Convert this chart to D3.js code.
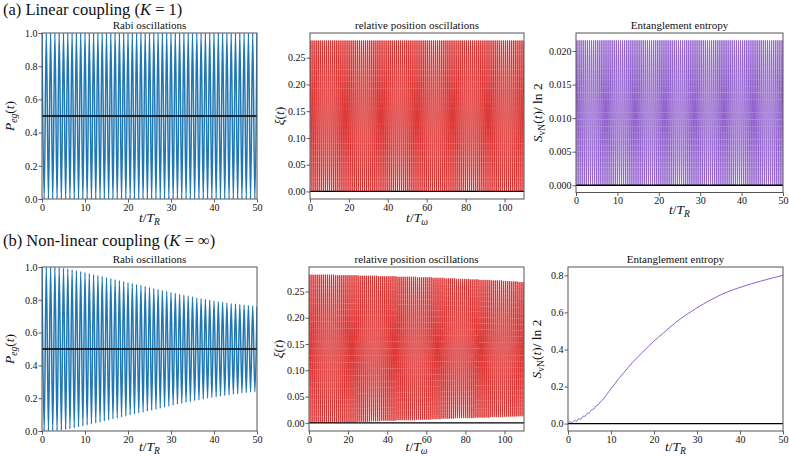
<!DOCTYPE html>
<html><head><meta charset="utf-8">
<script src="https://cdn.jsdelivr.net/npm/d3@7"></script>
<style>
body{margin:0;background:#fff;}
text{font-family:"Liberation Serif","DejaVu Serif",serif;fill:#111;}
</style></head><body>
<svg id="c" width="789" height="457"></svg>
<script>
// ---------- DATA ----------
// Rabi oscillations, linear coupling: peaks at t = 0..50, troughs at t = 0.5..49.5 (period 1 T_R)
const rabiA_peaks = [1,1,1,1,1,1,1,1,1,1, 1,1,1,1,1,1,1,1,1,1, 1,1,1,1,1,1,1,1,1,1, 1,1,1,1,1,1,1,1,1,1, 1,1,1,1,1,1,1,1,1,1, 1];
const rabiA_troughs = [0,0,0,0,0,0,0,0,0,0, 0,0,0,0,0,0,0,0,0,0, 0,0,0,0,0,0,0,0,0,0, 0,0,0,0,0,0,0,0,0,0, 0,0,0,0,0,0,0,0,0,0];
// Rabi oscillations, non-linear coupling
const rabiB_peaks = [1.000,1.000,1.000,0.999,0.997,0.993,0.989,0.984,0.978,0.972,
 0.966,0.960,0.954,0.948,0.942,0.936,0.930,0.924,0.918,0.912,
 0.906,0.900,0.894,0.888,0.882,0.876,0.870,0.864,0.858,0.852,
 0.846,0.840,0.834,0.829,0.823,0.818,0.813,0.808,0.803,0.798,
 0.794,0.790,0.786,0.782,0.778,0.775,0.771,0.768,0.765,0.762, 0.759];
const rabiB_troughs = [0.000,0.000,0.000,0.002,0.005,0.009,0.013,0.019,0.025,0.031,
 0.037,0.043,0.049,0.055,0.061,0.067,0.073,0.079,0.085,0.091,
 0.097,0.103,0.109,0.115,0.121,0.127,0.133,0.139,0.145,0.151,
 0.157,0.163,0.168,0.174,0.179,0.184,0.189,0.194,0.199,0.204,
 0.208,0.212,0.216,0.220,0.224,0.227,0.231,0.234,0.237,0.240];
// relative position, linear: troughs at t = 0..110, peaks at t = 0.5..109.5 (period 1 T_w)
const posA_troughs = [0,0,0,0,0,0,0,0,0,0, 0,0,0,0,0,0,0,0,0,0, 0,0,0,0,0,0,0,0,0,0,
 0,0,0,0,0,0,0,0,0,0, 0,0,0,0,0,0,0,0,0,0, 0,0,0,0,0,0,0,0,0,0,
 0,0,0,0,0,0,0,0,0,0, 0,0,0,0,0,0,0,0,0,0, 0,0,0,0,0,0,0,0,0,0,
 0,0,0,0,0,0,0,0,0,0, 0,0,0,0,0,0,0,0,0,0, 0];
const posA_peaks = [0.282,0.282,0.282,0.282,0.282,0.282,0.282,0.282,0.282,0.282,
 0.282,0.282,0.282,0.282,0.282,0.282,0.282,0.282,0.282,0.282,
 0.282,0.282,0.282,0.282,0.282,0.282,0.282,0.282,0.282,0.282,
 0.282,0.282,0.282,0.282,0.282,0.282,0.282,0.282,0.282,0.282,
 0.282,0.282,0.282,0.282,0.282,0.282,0.282,0.282,0.282,0.282,
 0.282,0.282,0.282,0.282,0.282,0.282,0.282,0.282,0.282,0.282,
 0.282,0.282,0.282,0.282,0.282,0.282,0.282,0.282,0.282,0.282,
 0.282,0.282,0.282,0.282,0.282,0.282,0.282,0.282,0.282,0.282,
 0.282,0.282,0.282,0.282,0.282,0.282,0.282,0.282,0.282,0.282,
 0.282,0.282,0.282,0.282,0.282,0.282,0.282,0.282,0.282,0.282,
 0.282,0.282,0.282,0.282,0.282,0.282,0.282,0.282,0.282,0.282];
// relative position, non-linear
const posB_troughs = [0.000,0.000,0.000,0.000,0.000,0.000,0.000,0.000,0.000,0.000,
 0.000,0.000,0.000,0.000,0.000,0.001,0.001,0.001,0.001,0.001,
 0.001,0.001,0.001,0.001,0.001,0.002,0.002,0.002,0.002,0.002,
 0.002,0.002,0.003,0.003,0.003,0.003,0.003,0.004,0.004,0.004,
 0.004,0.004,0.004,0.004,0.004,0.005,0.005,0.005,0.005,0.005,
 0.005,0.005,0.005,0.005,0.005,0.006,0.006,0.006,0.006,0.006,
 0.006,0.006,0.006,0.007,0.007,0.007,0.007,0.007,0.008,0.008,
 0.008,0.008,0.008,0.008,0.008,0.009,0.009,0.009,0.009,0.009,
 0.009,0.009,0.009,0.009,0.009,0.010,0.010,0.010,0.010,0.010,
 0.010,0.010,0.010,0.011,0.011,0.011,0.011,0.011,0.011,0.011,
 0.0115,0.0115,0.012,0.012,0.012,0.012,0.012,0.0125,0.0125,0.0125,0.0125];
const posB_peaks = [0.282,0.282,0.282,0.282,0.282,0.282,0.282,0.282,0.282,0.282,
 0.282,0.282,0.282,0.281,0.281,0.281,0.281,0.281,0.281,0.281,
 0.281,0.281,0.281,0.281,0.281,0.280,0.280,0.280,0.280,0.280,
 0.280,0.280,0.280,0.280,0.280,0.279,0.279,0.279,0.279,0.279,
 0.279,0.279,0.279,0.279,0.279,0.278,0.278,0.278,0.278,0.278,
 0.278,0.278,0.278,0.278,0.278,0.277,0.277,0.277,0.277,0.277,
 0.277,0.277,0.277,0.276,0.276,0.276,0.276,0.276,0.276,0.275,
 0.275,0.275,0.275,0.275,0.275,0.274,0.274,0.274,0.274,0.274,
 0.274,0.274,0.273,0.273,0.273,0.273,0.273,0.272,0.272,0.272,
 0.272,0.272,0.272,0.271,0.271,0.271,0.271,0.271,0.271,0.270,
 0.270,0.270,0.270,0.269,0.269,0.269,0.269,0.268,0.268,0.268];
// entanglement entropy, linear: troughs at t = 0,0.5,...,50 ; peaks in between (period 0.5 T_R)
const entA_troughs = [0,0,0,0,0,0,0,0,0,0, 0,0,0,0,0,0,0,0,0,0, 0,0,0,0,0,0,0,0,0,0,
 0,0,0,0,0,0,0,0,0,0, 0,0,0,0,0,0,0,0,0,0, 0,0,0,0,0,0,0,0,0,0,
 0,0,0,0,0,0,0,0,0,0, 0,0,0,0,0,0,0,0,0,0, 0,0,0,0,0,0,0,0,0,0,
 0,0,0,0,0,0,0,0,0,0, 0];
const entA_peaks = [0.0216,0.0216,0.0216,0.0216,0.0216,0.0216,0.0216,0.0216,0.0216,0.0216,
 0.0216,0.0216,0.0216,0.0216,0.0216,0.0216,0.0216,0.0216,0.0216,0.0216,
 0.0216,0.0216,0.0216,0.0216,0.0216,0.0216,0.0216,0.0216,0.0216,0.0216,
 0.0216,0.0216,0.0216,0.0216,0.0216,0.0216,0.0216,0.0216,0.0216,0.0216,
 0.0216,0.0216,0.0216,0.0216,0.0216,0.0216,0.0216,0.0216,0.0216,0.0216,
 0.0216,0.0216,0.0216,0.0216,0.0216,0.0216,0.0216,0.0216,0.0216,0.0216,
 0.0216,0.0216,0.0216,0.0216,0.0216,0.0216,0.0216,0.0216,0.0216,0.0216,
 0.0216,0.0216,0.0216,0.0216,0.0216,0.0216,0.0216,0.0216,0.0216,0.0216,
 0.0216,0.0216,0.0216,0.0216,0.0216,0.0216,0.0216,0.0216,0.0216,0.0216,
 0.0216,0.0216,0.0216,0.0216,0.0216,0.0216,0.0216,0.0216,0.0216,0.0216];
// entanglement entropy, non-linear (t, value)
const entB_t = [0,0.5,1,1.5,2,2.5,3,3.5,4,4.5,5,5.5,6,6.5,7,7.5,8,9,10,12,14,15,16,18,20,22,25,28,30,33,36,40,45,50];
const entB_v = [0.000,0.011,0.004,0.017,0.012,0.027,0.024,0.040,0.040,0.056,0.058,0.075,0.079,0.095,0.101,0.117,0.126,0.157,0.188,0.248,0.303,0.330,0.355,0.400,0.445,0.485,0.545,0.595,0.625,0.665,0.700,0.735,0.770,0.800];

// ticks
const rabiYTicks = [0,0.2,0.4,0.6,0.8,1.0];
const posYTicks = [0,0.05,0.10,0.15,0.20,0.25];
const entAYTicks = [0,0.005,0.010,0.015,0.020];
const entBYTicks = [0,0.2,0.4,0.6,0.8];
const tRTicks = [0,10,20,30,40,50];
const tWTicks = [0,20,40,60,80,100];

// ---------- helpers ----------
function osc(peaks, troughs, period, peakFirst){
  const pts=[]; const a = peakFirst?peaks:troughs, b = peakFirst?troughs:peaks;
  for(let i=0;i<a.length;i++){ pts.push([i*period,a[i]]); if(i<b.length) pts.push([(i+0.5)*period,b[i]]); }
  return pts;
}
const svg=d3.select("#c");
let clipId=0;
function panel(o){
  const g=svg.append("g");
  const x=d3.scaleLinear().domain(o.xd).range([o.x0,o.x1]);
  const y=d3.scaleLinear().domain(o.yd).range([o.y1,o.y0]);
  const id="clip"+(clipId++);
  g.append("clipPath").attr("id",id).append("rect").attr("x",o.x0).attr("y",o.y0).attr("width",o.x1-o.x0).attr("height",o.y1-o.y0);
  const line=d3.line().x(d=>x(d[0])).y(d=>y(d[1])).curve(d3.curveMonotoneX);
  g.append("path").attr("clip-path",`url(#${id})`).attr("d",line(o.pts)).attr("fill","none")
   .attr("stroke",o.color).attr("stroke-width",o.sw||0.8);
  g.append("line").attr("x1",o.x0).attr("x2",o.x1).attr("y1",y(o.hline)).attr("y2",y(o.hline))
   .attr("stroke","#000").attr("stroke-width",1.3);
  const xa=g.append("g").attr("transform",`translate(0,${o.y1})`).call(d3.axisBottom(x).tickValues(o.xt).tickSize(3.5).tickPadding(1).tickSizeOuter(0).tickFormat(d3.format("d")));
  const ya=g.append("g").attr("transform",`translate(${o.x0},0)`).call(d3.axisLeft(y).tickValues(o.yt).tickSize(3.5).tickPadding(1).tickSizeOuter(0).tickFormat(d3.format(o.yf)));
  [xa,ya].forEach(a=>{a.attr("font-family",null);a.select(".domain").remove();a.selectAll("line").attr("stroke","#333").attr("stroke-width",0.8);
    a.selectAll("text").attr("font-size",10).attr("fill","#111");});
  g.append("rect").attr("x",o.x0).attr("y",o.y0).attr("width",o.x1-o.x0).attr("height",o.y1-o.y0)
   .attr("fill","none").attr("stroke","#555").attr("stroke-width",1);
  g.append("text").attr("x",(o.x0+o.x1)/2).attr("y",o.y0-4).attr("text-anchor","middle").attr("font-size",11).text(o.title);
  // x label
  const xl=g.append("text").attr("x",(o.x0+o.x1)/2).attr("y",o.xly).attr("text-anchor","middle").attr("font-size",13.5);
  xl.append("tspan").attr("font-style","italic").text("t");
  xl.append("tspan").text("/");
  xl.append("tspan").attr("font-style","italic").text("T");
  xl.append("tspan").attr("font-style","italic").attr("font-size",9.5).attr("dy",2.5).text(o.sub);
  // y label
  const yl=g.append("text").attr("transform",`translate(${o.ylx},${(o.y0+o.y1)/2}) rotate(-90)`).attr("text-anchor","middle").attr("font-size",13.5);
  o.ylab(yl);
}
function ylRabi(t){ t.append("tspan").attr("font-style","italic").text("P");
  t.append("tspan").attr("font-style","italic").attr("font-size",9.5).attr("dy",3).text("eg");
  t.append("tspan").attr("dy",-3).text("(");t.append("tspan").attr("font-style","italic").text("t");t.append("tspan").text(")");}
function ylPos(t){ t.append("tspan").attr("font-style","italic").text("ξ");t.append("tspan").text("(");
  t.append("tspan").attr("font-style","italic").text("t");t.append("tspan").text(")");}
function ylEnt(t){ t.append("tspan").attr("font-style","italic").text("S");
  t.append("tspan").attr("font-size",9.5).attr("dy",3).text("vN");
  t.append("tspan").attr("dy",-3).text("(");t.append("tspan").attr("font-style","italic").text("t");t.append("tspan").text(")/ ln 2");}

const blue="#1f77b4", red="#d8201f", purple="#9060cc";
// headings
const ha=svg.append("text").attr("x",3).attr("y",15).attr("font-size",16.5).text("(a) Linear coupling (");
ha.append("tspan").attr("font-style","italic").text("K");ha.append("tspan").text(" = 1)");
const hb=svg.append("text").attr("x",3).attr("y",246).attr("font-size",16.5).text("(b) Non-linear coupling (");
hb.append("tspan").attr("font-style","italic").text("K");hb.append("tspan").text(" = ∞)");

// row a
panel({x0:42,x1:257,y0:33,y1:199,xd:[0,50],yd:[0,1],pts:osc(rabiA_peaks,rabiA_troughs,1,true),color:blue,sw:1.5,hline:0.5,
  xt:tRTicks,yt:rabiYTicks,yf:".1f",title:"Rabi oscillations",xly:222,sub:"R",ylx:14,ylab:ylRabi});
panel({x0:310,x1:524,y0:33,y1:199,xd:[0,110],yd:[-0.0141,0.2961],pts:osc(posA_peaks,posA_troughs,1,false),color:red,sw:0.9,hline:0,
  xt:tWTicks,yt:posYTicks,yf:".2f",title:"relative position oscillations",xly:222,sub:"ω",ylx:284,ylab:ylPos});
panel({x0:576,x1:783,y0:33,y1:192.5,xd:[0,50],yd:[-0.00108,0.02268],pts:osc(entA_peaks,entA_troughs,0.5,false),color:purple,sw:1,hline:0,
  xt:tRTicks,yt:entAYTicks,yf:".3f",title:"Entanglement entropy",xly:214,sub:"R",ylx:542,ylab:ylEnt});
// row b
panel({x0:42,x1:257,y0:267,y1:431,xd:[0,50],yd:[0,1],pts:osc(rabiB_peaks,rabiB_troughs,1,true),color:blue,sw:1.5,hline:0.5,
  xt:tRTicks,yt:rabiYTicks,yf:".1f",title:"Rabi oscillations",xly:451,sub:"R",ylx:14,ylab:ylRabi});
panel({x0:309,x1:524,y0:267,y1:431,xd:[0,110],yd:[-0.0155,0.2966],pts:osc(posB_peaks,posB_troughs,1,false),color:red,sw:0.9,hline:0,
  xt:tWTicks,yt:posYTicks,yf:".2f",title:"relative position oscillations",xly:451,sub:"ω",ylx:283,ylab:ylPos});
panel({x0:568,x1:783,y0:267,y1:431,xd:[0,50],yd:[-0.04,0.845],pts:entB_t.map((t,i)=>[t,entB_v[i]]),color:purple,sw:1,hline:0,
  xt:tRTicks,yt:entBYTicks,yf:".1f",title:"Entanglement entropy",xly:451,sub:"R",ylx:541,ylab:ylEnt});
</script></body></html>
